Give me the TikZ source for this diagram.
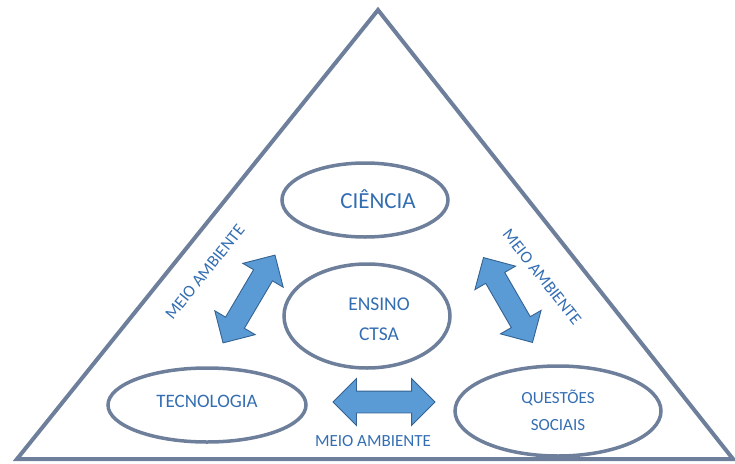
\documentclass[tikz,border=0pt]{standalone}
\usepackage{fontspec}
\setmainfont{Carlito}
\usetikzlibrary{shapes}

\definecolor{framegray}{RGB}{110,127,155}
\definecolor{textblue}{RGB}{52,110,178}
\definecolor{arrowfill}{RGB}{91,155,213}
\definecolor{arrowline}{RGB}{52,98,145}

\tikzset{
  topic/.style={ellipse, draw=framegray, line width=3.5pt, inner sep=0pt},
  topictext/.style={text=textblue, align=center, inner sep=0pt},
  dblarrow/.style={double arrow, fill=arrowfill, draw=arrowline, line width=0.9pt,
    inner sep=0pt, inner ysep=10.5pt, minimum height=102pt,
    double arrow head extend=12.5pt, double arrow head indent=0pt},
  envlabel/.style={text=textblue, font=\fontsize{17}{19}\selectfont, inner sep=0pt}
}

\begin{document}
\begin{tikzpicture}[x=1pt,y=-1pt]
    \useasboundingbox (0,0) rectangle (735,463);

    \coordinate (T0) at (17,459);
    \coordinate (T1) at (733,459);
    \coordinate (T2) at (378,10);

    \draw [framegray, line width=4pt, line join=miter] (T0) -- (T1) -- (T2) -- cycle;

    % the four topics
    \node [topic, minimum width=166pt, minimum height=74pt] (ciencia) at (365,200) {};
    \node [topic, minimum width=166pt, minimum height=104pt] (ensino) at (367,316) {};
    \node [topic, minimum width=198pt, minimum height=74pt] (tecnologia) at (207,405) {};
    \node [topic, minimum width=206pt, minimum height=90pt] (questoes) at (558,411) {};

    \node [topictext, font=\fontsize{23}{25}\selectfont] (ciencia text) at (378,199) {CIÊNCIA};
    \node [topictext, font=\fontsize{19.5}{30}\selectfont] (ensino text) at (379,319) {ENSINO\\CTSA};
    \node [topictext, font=\fontsize{19}{21}\selectfont] (tecnologia text) at (207,401) {TECNOLOGIA};
    \node [topictext, font=\fontsize{17}{27}\selectfont] (questoes text) at (558,410) {QUESTÕES\\SOCIAIS};

    % block arrows
    \node [dblarrow, rotate=59.4] (arrow left) at (249,299) {};
    \node [dblarrow, rotate=-60, minimum height=98pt] (arrow right) at (508,300) {};
    \node [dblarrow] (arrow bottom) at (384,402) {};

    \node [envlabel, rotate=51.2] (env left) at (205,272) {MEIO AMBIENTE};
    \node [envlabel, rotate=-51.7] (env right) at (542,277) {MEIO AMBIENTE};
    \node [envlabel] (env bottom) at (373,441) {MEIO AMBIENTE};
\end{tikzpicture}
\end{document}
